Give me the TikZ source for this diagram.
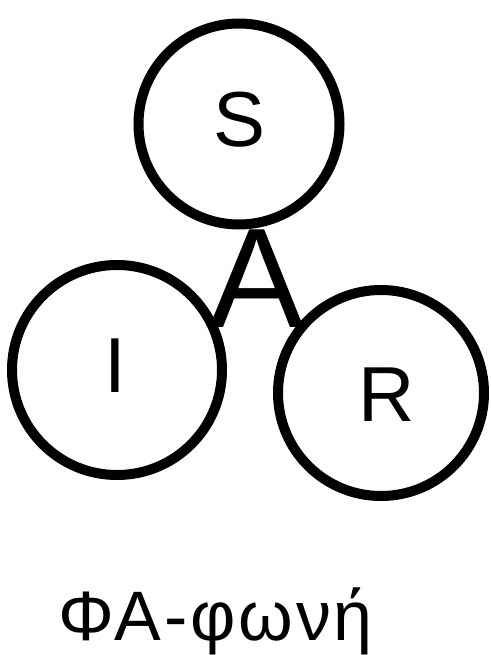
\documentclass[tikz,border=0pt]{standalone}
\usepackage{fontspec}
\setmainfont{Liberation Sans}

\begin{document}
\begin{tikzpicture}[
  x=1pt,y=-1pt,
  ring/.style={draw,circle,line width=10pt,inner sep=0pt},
  letter/.style={font=\fontsize{78}{78}\selectfont,inner sep=0pt}
]
  \useasboundingbox (0,0) rectangle (490,655);
  \node[ring,minimum size=201pt] (symbolic) at (239,124) {};
  \node[ring,minimum size=210pt] (imaginary) at (117,370) {};
  \node[ring,minimum size=206pt] (real) at (381,393) {};

  \node[letter] (symbolic label) at (240,120) {S};
  \node[letter] (imaginary label) at (115,366) {I};
  \node[letter] (real label) at (387,395) {R};

  \node[font=\fontsize{142}{142}\selectfont,inner sep=0pt,anchor=base] (knot) at (257,327) {A};

  \node[font=\fontsize{70}{70}\selectfont\addfontfeature{LetterSpace=4},inner sep=0pt,anchor=base west] (caption) at (58,640) {ΦΑ-φωνή};
\end{tikzpicture}
\end{document}
